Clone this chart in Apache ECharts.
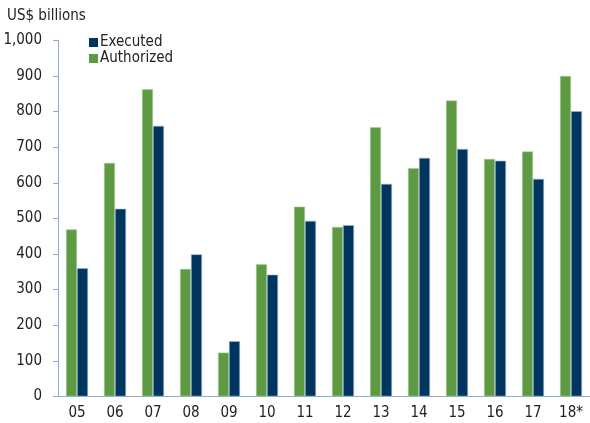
<!DOCTYPE html>
<html>
<head>
<meta charset="utf-8">
<script src="https://cdn.jsdelivr.net/npm/echarts@6/dist/echarts.min.js"></script>
<style>
  html, body { margin: 0; padding: 0; background: #fff; }
  #chart { width: 590px; height: 423px; }
</style>
</head>
<body>
<div id="chart"></div>
<script>
var years = ['05', '06', '07', '08', '09', '10', '11', '12', '13', '14', '15', '16', '17', '18*'];
var authorized = [469, 656, 863, 358, 123, 371, 533, 476, 756, 641, 831, 667, 688, 900];
var executed = [360, 527, 760, 399, 155, 342, 493, 481, 597, 670, 695, 662, 611, 801];
var yTicks = [0, 100, 200, 300, 400, 500, 600, 700, 800, 900, 1000];

var font = '"DejaVu Sans Condensed", "Liberation Sans Narrow", sans-serif';
var chart = echarts.init(document.getElementById('chart'));
chart.setOption({
  animation: false,
  textStyle: { fontFamily: font },
  graphic: [{
    type: 'text', left: 7, top: 9,
    style: { text: 'US$ billions', font: '15px ' + font, fill: '#222' }
  }],
  legend: {
    data: ['Executed', 'Authorized'],
    orient: 'vertical', left: 84, top: 30,
    itemWidth: 9, itemHeight: 9, itemGap: 1,
    icon: 'rect',
    itemStyle: { borderWidth: 0 },
    textStyle: { fontSize: 15, color: '#222', fontFamily: font, padding: [0, 0, 0, -3] }
  },
  grid: { left: 58, right: 0, top: 40.4, bottom: 26.6, containLabel: false },
  xAxis: {
    type: 'category', data: years,
    axisLine: { lineStyle: { color: '#8eaad6', width: 1 } },
    axisTick: { show: false },
    axisLabel: { fontSize: 15, color: '#222', margin: 9, fontFamily: font }
  },
  yAxis: {
    type: 'value', min: 0, max: 1000, interval: 100,
    axisLine: { show: true, lineStyle: { color: '#8eaad6', width: 1 } },
    axisTick: { show: true, length: 5, lineStyle: { color: '#8eaad6' } },
    splitLine: { show: false },
    axisLabel: {
      fontSize: 15, color: '#222', margin: 16, fontFamily: font,
      formatter: function (v) { return yTicks.indexOf(v) >= 0 ? v.toLocaleString('en-US') : ''; }
    }
  },
  series: [
    {
      name: 'Authorized', type: 'bar', data: authorized,
      barWidth: 11, barGap: '0%',
      itemStyle: { color: '#5e9a43', borderColor: '#a9cc98', borderWidth: 0.6 }
    },
    {
      name: 'Executed', type: 'bar', data: executed,
      barWidth: 11,
      itemStyle: { color: '#00355f', borderColor: '#9fb5cf', borderWidth: 0.6 }
    }
  ]
});
</script>
</body>
</html>
